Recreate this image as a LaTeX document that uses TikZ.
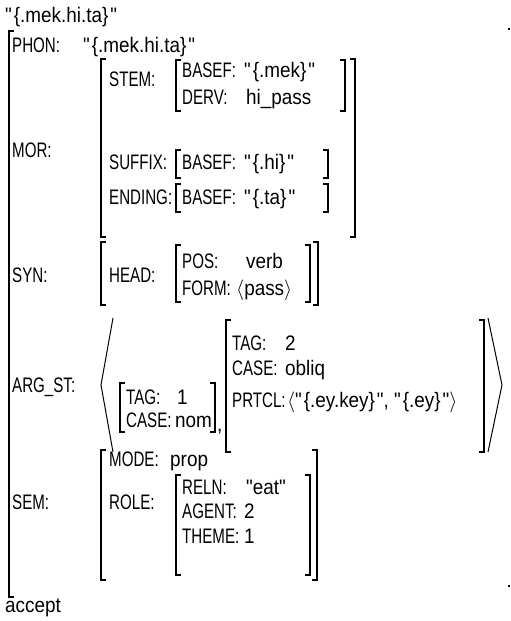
\documentclass[tikz,border=0pt]{standalone}
\usepackage{fontspec}
\newfontfamily\kf{Liberation Sans}[FakeStretch=0.72]
\newfontfamily\vf{Liberation Sans}[FakeStretch=0.9]
\newcommand{\qs}[1]{"\kern2pt\{#1\}\kern2pt"}
\begin{document}
\begin{tikzpicture}[x=1pt,y=-1pt,
  k/.style={anchor=base west,inner sep=0pt,font=\kf\fontsize{21}{24}\selectfont},
  v/.style={anchor=base west,inner sep=0pt,font=\vf\fontsize{21}{24}\selectfont},
  brk/.style={line width=1.3pt}]
\useasboundingbox (0,0) rectangle (511,621);
% top and bottom
\node[v] (top) at (5,22) {\qs{.mek.hi.ta}};
\node[v] (acc) at (5,612) {accept};
% outer bracket
\draw[brk] (14,31) -| (9,597) -- (14,597);
\fill (508,28) rectangle (510,30);
\fill (508,585) rectangle (510,587);
% PHON
\node[k] (phon) at (12,52) {PHON:};
\node[v] (phonv) at (83,52) {\qs{.mek.hi.ta}};
% MOR
\node[k] (mor) at (12,157) {MOR:};
\draw[brk] (106,59) -| (101,237) -- (106,237);
\draw[brk] (350,59) -| (355,237) -- (350,237);
\node[k] (stem) at (109,86) {STEM:};
\draw[brk] (181,60) -| (176,111) -- (181,111);
\draw[brk] (340,60) -| (345,111) -- (340,111);
\node[k] (b1) at (182,77) {BASEF:};
\node[v] (b1v) at (244,77) {\qs{.mek}};
\node[k] (d1) at (182,104) {DERV:};
\node[v] (d1v) at (246,104) {hi\_pass};
\node[k] (suf) at (109,169) {SUFFIX:};
\draw[brk] (181,150) -| (176,178) -- (181,178);
\draw[brk] (323,150) -| (328,178) -- (323,178);
\node[k] (b2) at (182,169) {BASEF:};
\node[v] (b2v) at (244,169) {\qs{.hi}};
\node[k] (end) at (109,204) {ENDING:};
\draw[brk] (181,184) -| (176,212) -- (181,212);
\draw[brk] (323,184) -| (328,212) -- (323,212);
\node[k] (b3) at (182,204) {BASEF:};
\node[v] (b3v) at (244,204) {\qs{.ta}};
% SYN
\node[k] (syn) at (12,282) {SYN:};
\draw[brk] (106,242) -| (101,305) -- (106,305);
\draw[brk] (313,242) -| (318,305) -- (313,305);
\node[k] (head) at (109,282) {HEAD:};
\draw[brk] (181,245) -| (176,302) -- (181,302);
\draw[brk] (305,245) -| (310,302) -- (305,302);
\node[k] (pos) at (182,268) {POS:};
\node[v] (posv) at (246,268) {verb};
\node[k] (form) at (182,295) {FORM:};
\node[v] (formv) at (236,295) {$\langle$pass$\rangle$};
% ARG_ST
\node[k] (arg) at (12,392) {ARG\_ST:};
\draw[line width=1pt] (113,318) -- (101,385) -- (113,452);
\draw[line width=1pt] (488,318) -- (502,385) -- (488,452);
\draw[brk] (125,383) -| (120,432) -- (125,432);
\draw[brk] (210,383) -| (215,432) -- (210,432);
\node[k] (tag1) at (126,404) {TAG:};
\node[v] (tag1v) at (177,404) {1};
\node[k] (case1) at (126,427) {CASE:};
\node[v] (case1v) at (175,427) {nom};
\node[v] (comma) at (217,431) {,};
\draw[brk] (231,320) -| (226,452) -- (231,452);
\draw[brk] (479,320) -| (484,452) -- (479,452);
\node[k] (tag2) at (232,350) {TAG:};
\node[v] (tag2v) at (285,350) {2};
\node[k] (case2) at (232,375) {CASE:};
\node[v] (case2v) at (285,375) {obliq};
\node[k] (prt) at (232,407) {PRTCL:};
\node[v,anchor=base west] (prtv) at ([xshift=1pt]prt.base east) {$\langle$\qs{.ey.key}, \qs{.ey}$\rangle$};
% SEM
\node[k] (sem) at (12,509) {SEM:};
\draw[brk] (106,450) -| (101,580) -- (106,580);
\draw[brk] (312,450) -| (317,580) -- (312,580);
\node[k] (mode) at (109,466) {MODE:};
\node[v] (modev) at (170,466) {prop};
\node[k] (role) at (109,509) {ROLE:};
\draw[brk] (181,475) -| (176,575) -- (181,575);
\draw[brk] (305,475) -| (310,575) -- (305,575);
\node[k] (reln) at (182,494) {RELN:};
\node[v] (relnv) at (246,494) {"eat"};
\node[k] (agent) at (182,518) {AGENT:};
\node[v] (agentv) at (244,518) {2};
\node[k] (theme) at (182,543) {THEME:};
\node[v] (themev) at (244,543) {1};
\end{tikzpicture}
\end{document}
